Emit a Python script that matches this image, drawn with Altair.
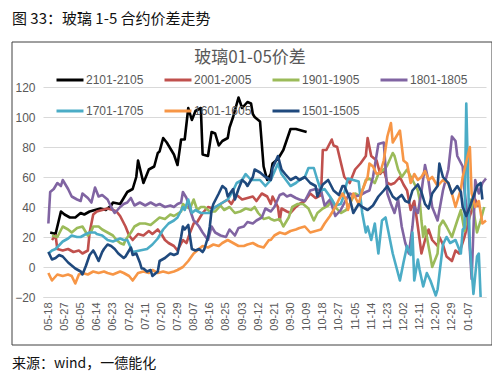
import altair as alt
import pandas as pd

# ---------------- data ----------------
series_names = ["2101-2105", "2001-2005", "1901-1905", "1801-1805",
                "1701-1705", "1601-1605", "1501-1505"]
series_colors = ["#000000", "#C0504D", "#9BBB59", "#8064A2",
                 "#4BACC6", "#F79646", "#1F497D"]

# x tick labels, one every 9 days from 05-18
tick_labels = ["05-18", "05-27", "06-05", "06-14", "06-23", "07-02", "07-11",
               "07-20", "07-29", "08-07", "08-16", "08-25", "09-03", "09-12",
               "09-21", "09-30", "10-09", "10-18", "10-27", "11-05", "11-14",
               "11-23", "12-02", "12-11", "12-20", "12-29", "01-07"]

# day offsets (from 05-18) and spread values per series
days_2101 = [1, 4, 7, 9, 12, 15, 18, 20, 23, 26, 29, 32, 35, 36, 40, 44, 47, 49, 50, 53,
             56, 59, 61, 62, 64, 66, 68, 70, 72, 74, 76, 78, 80, 82, 85, 86, 89, 91, 93, 95,
             97, 100, 101, 103, 106, 108, 111, 113, 114, 115, 118, 120, 122, 124, 125, 128,
             131, 133, 135, 138, 141, 144]
vals_2101 = [23, 22, 37, 35, 33, 33, 36, 35, 37, 38, 39, 38, 41, 43, 42, 50, 52, 60, 71, 56,
             65, 67, 76, 77, 86, 83, 79, 75, 68, 85, 85, 106, 98, 104, 106, 75, 74, 90, 89, 81,
             84, 86, 93, 100, 113, 106, 110, 109, 102, 100, 97, 67, 58, 62, 69, 72,
             78, 85, 92, 92, 91, 90]

days_2001 = [2, 4, 5, 8, 11, 14, 17, 19, 22, 23, 25, 27, 30, 33, 36, 38, 40, 43, 45, 47,
             50, 53, 56, 58, 61, 63, 65, 67, 70, 72, 75, 77, 79, 81, 83, 86, 89, 92, 96, 100,
             102, 105, 108, 111, 114, 116, 119, 122, 124, 125, 128, 129, 130, 133, 135, 138,
             140, 143, 146, 149, 152, 153, 155, 158, 159, 161, 164, 165, 168, 171, 174, 177,
             178, 180, 183, 185, 187, 189, 191, 193, 196, 198, 200, 202, 204, 206, 208, 210,
             212, 214, 217, 218, 220, 222, 225, 227, 229, 232, 235, 238, 240]
vals_2001 = [18, 21, 12, 11, 12, 10, 11, 9, 11, 23, 35, 37, 38, 39, 38, 37, 34, 27, 21, 18,
             22, 21, 24, 22, 25, 22, 18, 16, 14, 11, 18, 16, 23, 29, 30, 36, 40, 39, 42, 45,
             42, 48, 45, 46, 47, 44, 49, 47, 42, 47, 40, 31, 39, 37, 36, 40,
             42, 44, 49, 46, 48, 78, 78, 85, 81, 80, 65, 60, 56, 65, 69, 74,
             86, 74, 71, 62, 65, 56, 55, 56, 60, 55, 51, 38, 44, 27, 9, 18,
             25, 18, 14, 20, 15, 7, 4, 11, 9, 20, 34, 45, 40]

days_1901 = [2, 5, 8, 11, 13, 16, 19, 22, 24, 25, 28, 30, 33, 36, 38, 40, 42, 43, 46, 48,
             51, 54, 57, 60, 62, 65, 68, 70, 74, 75, 77, 79, 81, 83, 85, 87, 90, 93, 96, 98,
             101, 104, 107, 110, 113, 115, 117, 120, 123, 124, 126, 129, 131, 134, 136, 139,
             142, 145, 148, 150, 153, 156, 158, 160, 163, 166, 168, 171, 174, 177, 179, 182,
             184, 186, 188, 189, 192, 193, 195, 197, 200, 203, 206, 207, 208, 209, 210, 213,
             214, 217, 218, 220, 222, 225, 228, 230, 232, 235, 237, 239, 241, 243]
vals_1901 = [21, 20, 27, 25, 23, 26, 27, 21, 24, 27, 27, 25, 23, 21, 18, 16, 15, 18, 23, 27,
             29, 29, 28, 31, 33, 32, 35, 34, 37, 42, 40, 39, 45, 38, 40, 40, 37, 37, 41, 38,
             40, 36, 37, 39, 38, 40, 36, 32, 33, 32, 31, 32, 27, 33, 40, 42,
             42, 39, 31, 36, 39, 41, 45, 40, 36, 38, 42, 49, 47, 58, 59, 56,
             62, 64, 66, 68, 76, 74, 65, 60, 65, 58, 51, 45, 31, 20, 27, 7,
             0, 9, 27, 31, 27, 20, 31, 38, 24, 45, 38, 23, 31, 40]

days_1801 = [0, 1, 3, 5, 7, 8, 11, 13, 16, 18, 19, 22, 24, 26, 28, 30, 33, 35, 37, 40,
             42, 44, 46, 48, 51, 54, 57, 60, 62, 65, 68, 70, 72, 74, 75, 77, 79, 81, 82, 84,
             86, 89, 91, 93, 96, 99, 101, 104, 106, 109, 111, 114, 116, 119, 121, 124, 126,
             129, 131, 133, 135, 138, 140, 143, 146, 149, 152, 154, 157, 160, 163, 166, 168,
             171, 174, 177, 179, 181, 184, 187, 189, 191, 193, 195, 197, 199, 201, 203, 204,
             206, 208, 210, 212, 214, 217, 220, 223, 225, 227, 228, 231, 232, 234, 236, 238,
             240, 242, 244]
vals_1801 = [29, 50, 52, 56, 54, 58, 52, 47, 45, 44, 49, 46, 43, 53, 47, 48, 45, 40, 36, 40,
             42, 43, 46, 41, 43, 41, 43, 41, 42, 40, 41, 40, 42, 43, 50, 46, 38, 31, 30, 27,
             23, 18, 27, 23, 21, 20, 25, 21, 26, 27, 30, 29, 31, 33, 39, 37, 40,
             48, 49, 47, 48, 46, 45, 44, 51, 52, 51, 41, 45, 34, 38, 45, 49,
             47, 48, 50, 51, 60, 82, 83, 49, 42, 36, 45, 27, 16, 9, 27, 40,
             36, 50, 68, 57, 40, 31, 51, 65, 87, 84, 74, 67, 51, 31, -8, 58,
             49, 56, 59]

days_1701 = [0, 2, 4, 8, 11, 13, 16, 18, 21, 23, 26, 27, 30, 33, 36, 38, 40, 42, 44, 47,
             51, 55, 58, 61, 64, 67, 70, 72, 75, 76, 78, 80, 82, 85, 90, 93, 100, 103, 105,
             108, 110, 113, 118, 121, 124, 128, 130, 135, 138, 140, 143, 145, 148, 150, 152,
             154, 157, 160, 163, 164, 167, 170, 173, 175, 177, 178, 180, 182, 184, 186, 188,
             189, 192, 194, 196, 198, 200, 202, 203, 204, 206, 207, 209, 211, 213, 216, 217,
             218, 220, 222, 224, 227, 230, 231, 232, 233, 234, 235, 237, 239, 240, 241]
vals_1701 = [9, 11, 12, 17, 19, 21, 20, 20, 22, 23, 23, 22, 21, 18, 17, 18, 19, 18, 18, 10,
             11, 12, 15, 19, 25, 29, 31, 33, 40, 38, 45, 36, 38, 36, 36, 40, 45, 51, 56,
             58, 62, 58, 58, 54, 58, 69, 62, 54, 56, 58, 60, 66, 66, 58, 51,
             52, 47, 41, 42, 45, 59, 58, 57, 36, 23, 27, 18, 29, 9, 31, 33,
             27, 9, 0, -9, 3, 14, 8, 23, -9, 5, -2, -13, -4, -9, -19, -15,
             -5, 15, 20, 16, 18, 9, 25, 26, 109, 60, 14, -18, 7, 9, -20]

days_1601 = [0, 2, 5, 8, 11, 13, 15, 17, 19, 22, 25, 28, 31, 33, 36, 38, 40, 42, 45, 47,
             50, 53, 56, 58, 61, 64, 67, 70, 72, 75, 78, 81, 83, 86, 89, 92, 95, 97, 100,
             103, 106, 109, 111, 114, 117, 120, 123, 124, 126, 129, 132, 135, 138, 140, 143,
             146, 149, 152, 154, 157, 160, 162, 164, 166, 167, 170, 173, 175, 178, 179, 181,
             183, 185, 187, 189, 191, 192, 194, 196, 198, 200, 202, 204, 206, 208, 210, 212,
             214, 217, 220, 223, 225, 227, 230, 231, 233, 235, 236, 238, 240, 242, 244]
vals_1601 = [-4, -9, -5, -6, -5, -6, -11, -5, -4, -5, -3, -4, -3, -4, -5, -4, -3, -4, -6, -9,
             -4, -3, -4, -2, -4, -3, -4, -3, -2, 0, 4, 9, 11, 14, 13, 15, 14, 16, 18,
             16, 14, 14, 15, 16, 14, 13, 18, 18, 21, 23, 22, 24, 25, 26, 27,
             23, 24, 25, 29, 34, 40, 45, 49, 45, 38, 49, 42, 51, 60, 69, 67,
             62, 63, 71, 87, 96, 83, 87, 91, 71, 69, 56, 62, 58, 60, 64, 58,
             60, 54, 58, 56, 49, 40, 52, 60, 70, 80, 49, 40, 44, 29, 31]

days_1501 = [0, 2, 4, 6, 8, 11, 13, 15, 18, 19, 21, 23, 25, 26, 28, 30, 31, 33, 35, 37,
             39, 42, 43, 45, 46, 47, 49, 51, 52, 53, 55, 57, 58, 60, 61, 62, 65, 67, 68, 70,
             72, 74, 75, 76, 78, 79, 80, 82, 84, 86, 87, 89, 90, 91, 92, 95, 97, 99, 100,
             103, 104, 106, 108, 110, 111, 114, 115, 118, 121, 124, 125, 128, 130, 132, 135,
             138, 140, 143, 146, 149, 150, 153, 156, 159, 162, 164, 165, 168, 170, 173, 175,
             178, 181, 184, 187, 189, 192, 194, 197, 199, 201, 203, 206, 208, 210, 212, 214,
             217, 218, 220, 223, 225, 228, 230, 231, 233, 235, 237, 239, 241, 242]
vals_1501 = [10, 5, 6, 8, 7, 3, 1, -1, -3, -5, 1, 8, 11, 9, 4, 10, 12, 15, 14, 12,
             9, 6, 7, 11, 13, 8, 9, 3, -1, -1, -3, -2, -6, -4, -3, 4, 6, 8, 9, 8,
             9, 20, 27, 25, 28, 20, 12, 11, 12, 10, 12, 20, 27, 38, 42, 49, 54, 52, 47,
             52, 45, 52, 58, 56, 54, 60, 65, 63, 60, 58, 66, 74, 65, 62, 58,
             60, 58, 60, 56, 54, 47, 55, 58, 51, 48, 54, 54, 46, 36, 42, 40,
             38, 41, 47, 51, 54, 47, 45, 48, 44, 43, 51, 55, 50, 42, 39, 49,
             54, 69, 60, 56, 49, 54, 50, 40, 34, 40, 47, 54, 56, 45]

series_days = [days_2101, days_2001, days_1901, days_1801, days_1701, days_1601, days_1501]
series_vals = [vals_2101, vals_2001, vals_1901, vals_1801, vals_1701, vals_1601, vals_1501]

rows = []
for name, ds, vs in zip(series_names, series_days, series_vals):
    for d, v in zip(ds, vs):
        rows.append({"s": name, "d": d, "v": v})
df = pd.DataFrame(rows)

caption = "图 33：玻璃 1-5 合约价差走势"
chart_title = "玻璃01-05价差"
source = "来源：wind，一德能化"

# ---------------- chart ----------------
label_expr = "[" + ",".join("'" + t + "'" for t in tick_labels) + "][round(datum.value/9)]"

x_enc = alt.X("d:Q",
              scale=alt.Scale(domain=[-3, 244], nice=False, zero=False),
              axis=alt.Axis(values=list(range(0, 9 * len(tick_labels), 9)),
                            labelExpr=label_expr, labelAngle=-90, grid=False,
                            ticks=False, domainColor="#D9D9D9", labelColor="#595959",
                            labelFontSize=11, labelFont="Liberation Sans",
                            labelPadding=5, title=None))
y_enc = alt.Y("v:Q",
              scale=alt.Scale(domain=[-20, 120], nice=False),
              axis=alt.Axis(values=[-20, 0, 20, 40, 60, 80, 100, 120], title=None,
                            domain=False, ticks=False, gridColor="#D9D9D9",
                            labelColor="#595959", labelFontSize=12,
                            labelFont="Liberation Sans", labelPadding=8))
legend = alt.Legend(orient="none", legendX=12, legendY=-22, columns=4,
                    direction="horizontal", title=None, symbolType="stroke",
                    symbolSize=729, symbolStrokeWidth=3, labelFontSize=12,
                    labelColor="#595959", labelFont="Liberation Sans",
                    columnPadding=14, rowPadding=10, gridAlign="all", labelOffset=1)
color_enc = alt.Color("s:N", scale=alt.Scale(domain=series_names, range=series_colors),
                      legend=legend)

base = alt.Chart(df)
lines = [
    base.transform_filter(alt.datum.s == name)
    .mark_line(strokeWidth=2.6, strokeJoin="round")
    .encode(x=x_enc, y=y_enc, color=color_enc)
    for name in series_names
]

one = pd.DataFrame({"k": [0]})
frame = alt.Chart(one).mark_rect(fillOpacity=0, stroke="#404040", strokeWidth=1).encode(
    x=alt.value(-31), x2=alt.value(449), y=alt.value(-45), y2=alt.value(258))
cap = alt.Chart(pd.DataFrame({"t": [caption]})).mark_text(
    align="left", baseline="middle", fontSize=15, color="#111111",
    font="Noto Sans CJK SC").encode(x=alt.value(-31), y=alt.value(-68), text="t:N")
ttl = alt.Chart(pd.DataFrame({"t": [chart_title]})).mark_text(
    align="center", baseline="middle", fontSize=17, color="#595959",
    font="Noto Sans CJK SC").encode(x=alt.value(207), y=alt.value(-29), text="t:N")
src = alt.Chart(pd.DataFrame({"t": [source]})).mark_text(
    align="left", baseline="middle", fontSize=14, color="#111111",
    font="Noto Sans CJK SC").encode(x=alt.value(-31), y=alt.value(277), text="t:N")

chart = alt.layer(frame, *lines, cap, ttl, src).properties(
    width=443, height=210,
    padding={"left": 35, "top": 79, "right": 6, "bottom": 80},
    autosize=alt.AutoSizeParams(type="none"),
    background="white",
).configure_view(stroke=None)

chart.save("out.html", embed_options={"renderer": "svg", "actions": False})
